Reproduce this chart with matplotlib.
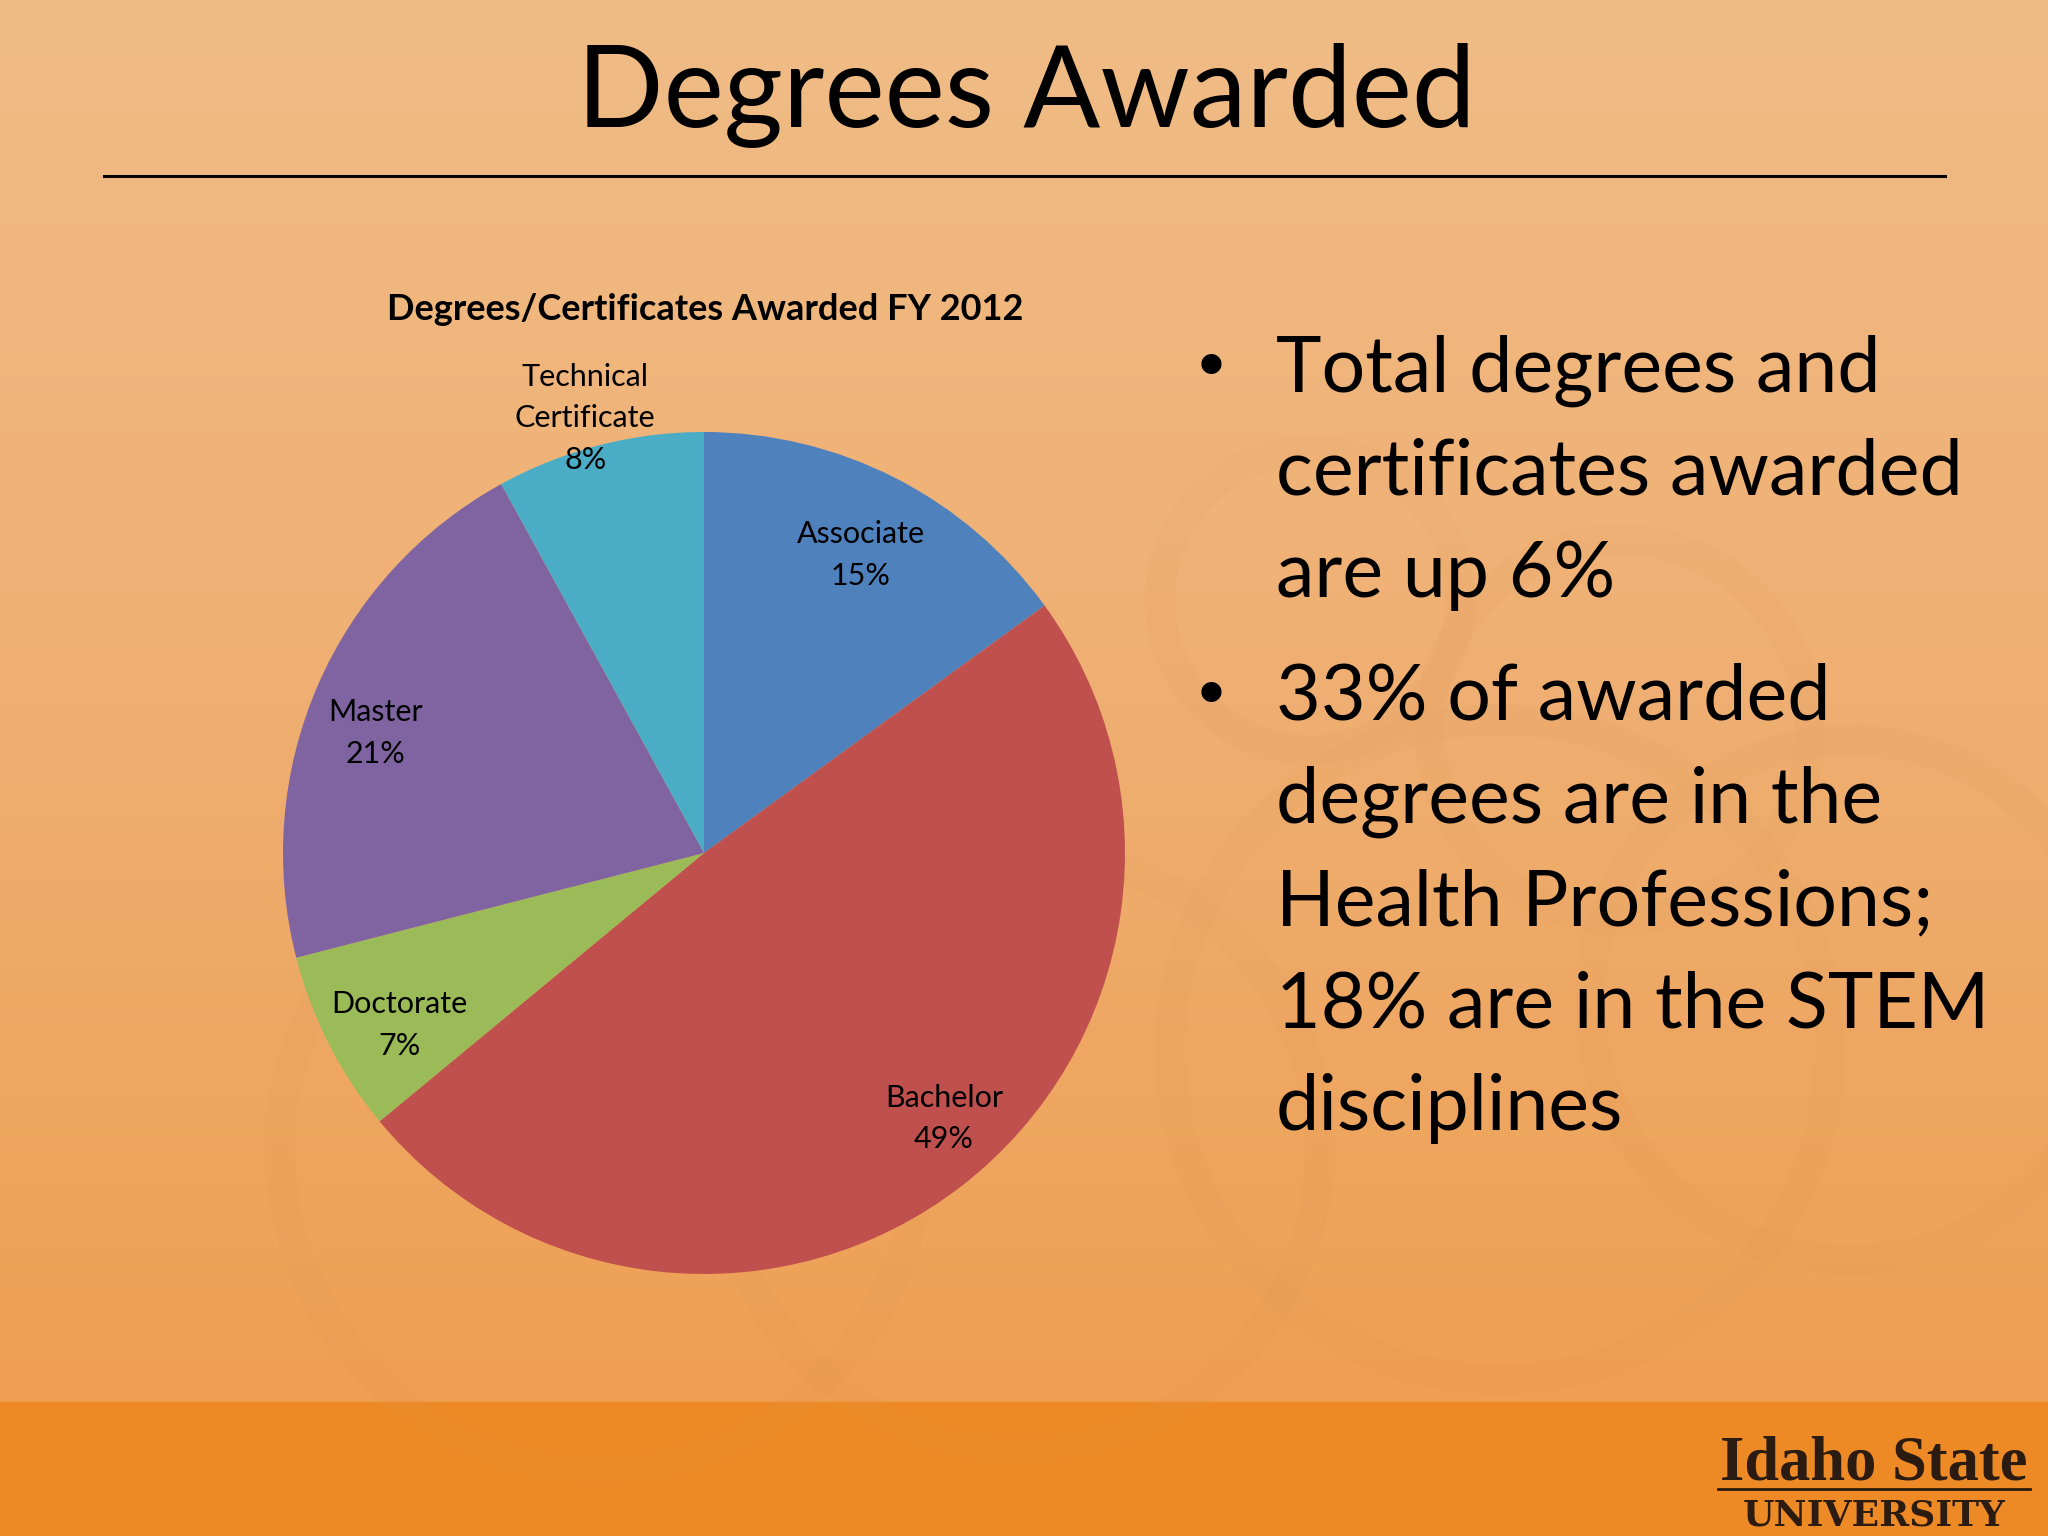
import numpy as np
import matplotlib
matplotlib.use('Agg')
import matplotlib.pyplot as plt
from matplotlib.colors import LinearSegmentedColormap
from matplotlib.patches import Circle, Rectangle

# chart data
categories = ['Associate', 'Bachelor', 'Doctorate', 'Master', 'Technical\nCertificate']
shares = [15, 49, 7, 21, 8]
colors = ['#4F81BD', '#C0504D', '#9BBB59', '#8064A2', '#4BACC6']

# label layout: radius (in pie radii) and angle nudge from slice middle
label_r = [0.80, 0.85, 0.83, 0.83, 1.07]
label_nudge = [-0.7, 4.3, 2.5, 3.3, 0.9]

bullets = [
    ['Total degrees and', 'certificates awarded', 'are up 6%'],
    ['33% of awarded', 'degrees are in the', 'Health Professions;',
     '18% are in the STEM', 'disciplines'],
]

FONT = 'Lato'
W, H = 2048, 1536
fig = plt.figure(figsize=(W / 100, H / 100), dpi=100)

# slide background in pixel coordinates
bg = fig.add_axes([0, 0, 1, 1])
bg.set_xlim(0, W)
bg.set_ylim(H, 0)
bg.axis('off')
grad = LinearSegmentedColormap.from_list('bg', ['#F0BC86', '#EFAF72', '#EE9F53'])
bg.imshow(np.linspace(0, 1, 256).reshape(-1, 1), cmap=grad, aspect='auto',
          extent=(0, W, 1402, 0), zorder=0)
bg.add_patch(Rectangle((0, 1402), W, H - 1402, color='#EE8A25', zorder=1))

# faint decorative knot
for cx, cy, r in [(1310, 600, 150), (1620, 730, 190), (1500, 1050, 330),
                  (1020, 1150, 300), (1850, 1000, 260), (600, 1150, 320)]:
    bg.add_patch(Circle((cx, cy), r, fill=False, ec='#D98A4A', lw=22,
                        alpha=0.06, zorder=1))

# title and rule
bg.text(1026, 127, 'Degrees Awarded', fontsize=82, family=FONT,
        ha='center', va='baseline', zorder=3)
bg.plot([104, 1945], [176, 176], color='black', lw=2.2, zorder=3)

# chart title
bg.text(705, 320, 'Degrees/Certificates Awarded FY 2012', fontsize=26,
        family=FONT, weight='bold', ha='center', va='baseline', zorder=3)

# bullets
y = 392
for i, block in enumerate(bullets):
    if i == 1:
        y = 720
    bg.text(1211, y - 21, '\u2022', fontsize=50, family='DejaVu Sans',
            ha='center', va='center', zorder=3)
    for line in block:
        bg.text(1276, y, line, fontsize=55.5, family=FONT, ha='left',
                va='baseline', zorder=3)
        y += 102.5

# logo
brown = '#2B1B10'
bg.text(1874, 1479, 'Idaho State', fontsize=45, family='Liberation Serif',
        weight='bold', color=brown, ha='center', va='baseline', zorder=3)
bg.plot([1718, 2030], [1489, 1489], color=brown, lw=2, zorder=3)
bg.text(1874, 1526, 'UNIVERSITY', fontsize=26, family='DejaVu Serif',
        weight='bold', color=brown, ha='center', va='baseline', zorder=3)

# pie: centre (704, 853) px, radius 421 px
R, CX, CY = 421, 704, 853
ax = fig.add_axes([(CX - R) / W, (H - CY - R) / H, 2 * R / W, 2 * R / H])
wedges, _ = ax.pie(shares, colors=colors, startangle=90, counterclock=False,
                   wedgeprops=dict(linewidth=0))
ax.set_xlim(-1, 1)
ax.set_ylim(-1, 1)
ax.axis('off')

for w, name, val, r, d in zip(wedges, categories, shares, label_r, label_nudge):
    mid = np.deg2rad((w.theta1 + w.theta2) / 2 + d)
    ax.text(r * np.cos(mid), r * np.sin(mid), '%s\n%d%%' % (name, val),
            fontsize=22, family=FONT, ha='center', va='center',
            linespacing=1.6, clip_on=False)

fig.savefig('out.png', dpi=100)
